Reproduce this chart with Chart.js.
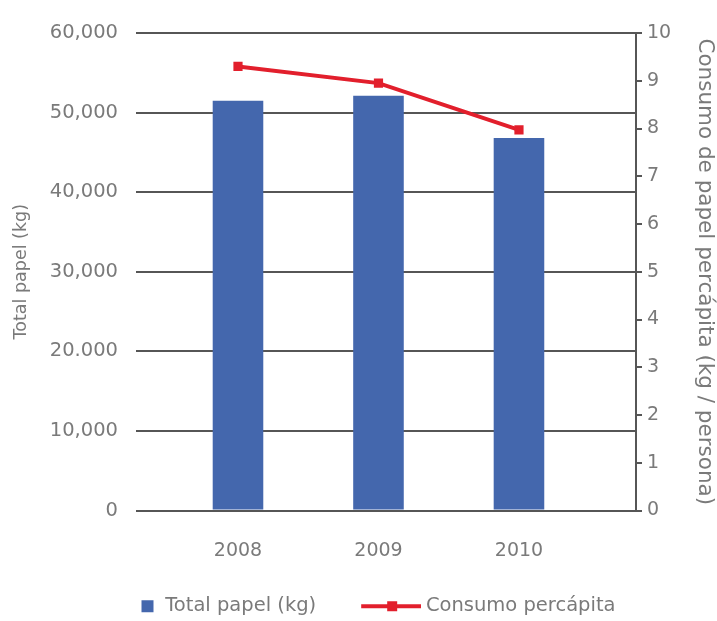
<!DOCTYPE html>
<html>
<head>
<meta charset="utf-8">
<script src="https://cdn.jsdelivr.net/npm/chart.js@4.4.1/dist/chart.umd.min.js"></script>
<style>
  html, body { margin: 0; padding: 0; background: #fff; }
  #wrap { width: 717px; height: 621px; }
</style>
</head>
<body>
<div id="wrap"><canvas id="chart"></canvas></div>
<script>
// ── DATA ──
const years            = [2008, 2009, 2010];
const totalPapel       = [51500, 52100, 46800];   // kg
const consumoPercapita = [9.3, 8.95, 7.97];       // kg / persona
const leftTickLabels   = ['0', '10,000', '20.000', '30,000', '40,000', '50,000', '60,000'];

// ── STYLE ──
const BLUE = '#4467ad';
const RED  = '#e21f2c';
const GRID = '#565656';
const TEXT = '#7a7a7a';
const FONT = "'DejaVu Sans', sans-serif";

// legend swatches drawn on small canvases, used as pointStyle images
function swatch(w, draw) {
  const c = document.createElement('canvas');
  c.width = w;
  c.height = 14;
  draw(c.getContext('2d'));
  return c;
}
const barSwatch  = swatch(90, g => { g.fillStyle = BLUE; g.fillRect(76, 1, 12, 12); });
const lineSwatch = swatch(100, g => {
  g.fillStyle = RED;
  g.fillRect(40, 5, 60, 4);
  g.fillRect(66, 2, 10, 10);
});

const barPoints  = years.map((y, i) => ({ x: y, y: totalPapel[i] }));
const linePoints = years.map((y, i) => ({ x: y, y: consumoPercapita[i] }));

// the left padding is negative so the bottom legend sits a bit left of centre;
// the left axis is widened by the same amount to keep the plot in place
const SHIFT = 36;

new Chart(document.getElementById('chart'), {
  type: 'bar',
  data: {
    datasets: [
      {
        type: 'bar',
        label: 'Total papel (kg)',
        data: barPoints,
        yAxisID: 'y',
        backgroundColor: BLUE,
        borderWidth: 0,
        categoryPercentage: 1,
        barPercentage: 0.36,
      },
      {
        type: 'line',
        label: 'Consumo percápita',
        data: linePoints,
        yAxisID: 'y2',
        borderColor: RED,
        backgroundColor: RED,
        borderWidth: 4,
        pointStyle: 'rect',
        pointRadius: 6.5,
        pointBorderWidth: 0,
        tension: 0,
        fill: false,
      },
    ]
  },
  options: {
    responsive: true,
    maintainAspectRatio: false,
    animation: false,
    layout: { padding: { top: 33, bottom: -5, left: -SHIFT, right: 0 } },
    plugins: {
      tooltip: { enabled: false },
      legend: {
        position: 'bottom',
        labels: {
          usePointStyle: true,
          pointStyleWidth: 90,
          padding: 10,
          color: TEXT,
          font: { family: FONT, size: 19.5 },
          generateLabels(chart) {
            const items = Chart.defaults.plugins.legend.labels.generateLabels(chart);
            items.forEach((it, i) => { it.pointStyle = i === 0 ? barSwatch : lineSwatch; });
            return items;
          }
        }
      }
    },
    scales: {
      x: {
        type: 'linear',
        offset: false,
        min: 2007.274,
        max: 2010.833,
        afterBuildTicks: s => { s.ticks = years.map(v => ({ value: v })); },
        afterFit: s => { s.height = 76; },
        ticks: {
          color: TEXT,
          font: { family: FONT, size: 19 },
          padding: 29,
          maxRotation: 0,
          autoSkip: false,
          callback: v => String(v)
        },
        grid: { display: false, drawTicks: false },
        border: { display: false }
      },
      y: {
        position: 'left',
        min: 0,
        max: 60000,
        afterFit: s => { s.width = 136 + SHIFT; },
        ticks: {
          stepSize: 10000,
          color: TEXT,
          font: { family: FONT, size: 19.5 },
          padding: 18,
          callback: v => leftTickLabels[Math.round(v / 10000)]
        },
        title: {
          display: true,
          text: 'Total papel (kg)',
          color: TEXT,
          font: { family: FONT, size: 17.5 },
          padding: { top: 11 + SHIFT, bottom: 0 }
        },
        grid: { color: GRID, lineWidth: 2, drawTicks: false },
        border: { display: false }
      },
      y2: {
        position: 'right',
        min: 0,
        max: 10,
        afterFit: s => { s.width = 81; },
        ticks: {
          stepSize: 1,
          color: TEXT,
          font: { family: FONT, size: 19 },
          padding: 5
        },
        title: {
          display: true,
          text: 'Consumo de papel percápita (kg / persona)',
          color: TEXT,
          font: { family: FONT, size: 21.5 },
          padding: { top: 0, bottom: 0 }
        },
        grid: { drawOnChartArea: false, color: GRID, lineWidth: 2, tickLength: 6 },
        border: { display: true, color: GRID, width: 2 }
      }
    }
  }
});
</script>
</body>
</html>
